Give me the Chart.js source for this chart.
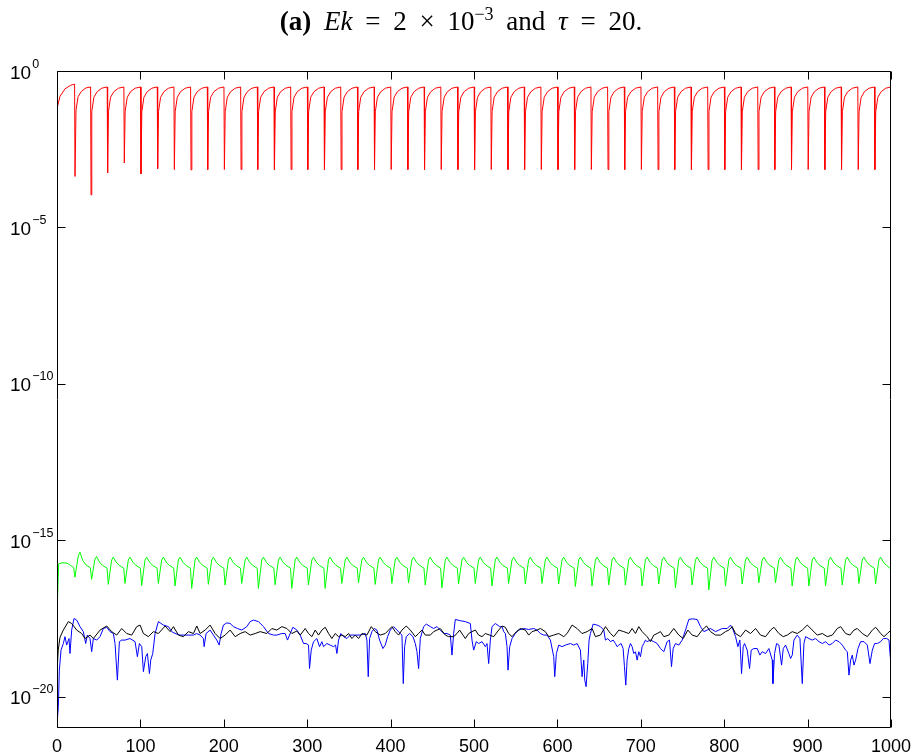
<!DOCTYPE html>
<html>
<head>
<meta charset="utf-8">
<script src="https://cdn.jsdelivr.net/npm/chart.js@4.4.1/dist/chart.umd.min.js"></script>
<style>
html, body { margin: 0; padding: 0; background: #fff; }
#wrap { position: relative; width: 914px; height: 753px; overflow: hidden; }
#residualChart { position: absolute; left: 0; top: 0; }
#title { position: absolute; top: 6px; left: 0; width: 922px; text-align: center; line-height: 30px;
  font-family: 'Liberation Serif', 'DejaVu Serif', serif; font-size: 27px; color: #000;
  word-spacing: 6px; white-space: nowrap; }
#title sup { font-size: 18px; position: relative; top: -0.55em; vertical-align: baseline; }
</style>
</head>
<body>
<div id="wrap">
<canvas id="residualChart" width="914" height="753"></canvas>
<div id="title"><b>(a)</b> <i>Ek</i> = 2 &times; 10<sup>&minus;3</sup> and <i>&tau;</i> = 20.</div>
</div>
<script>
// axis ticks
const xTicks = [0, 100, 200, 300, 400, 500, 600, 700, 800, 900, 1000];
const xTickLabels = ['0', '100', '200', '300', '400', '500', '600', '700', '800', '900', '1000'];
const yTicks = [1, 1e-5, 1e-10, 1e-15, 1e-20];
const yTickBase = '10';
const yTickExponents = ['0', '\u22125', '\u221210', '\u221215', '\u221220'];

// series as [x, log10(y)]
const redPts = [
  [0,-1.2],[3.6,-0.81],[9.6,-0.57],[16,-0.46],[21.1,-0.42],
  [21.6,-3.37],[22.8,-1.25],[25.3,-0.82],[29.3,-0.65],[34.8,-0.54],[40.3,-0.51],
  [40.8,-3.96],[41.7,-1.3],[44.2,-0.84],[48.2,-0.66],[53.7,-0.55],[60.2,-0.51],
  [60.7,-3.26],[61.7,-1.3],[64.2,-0.84],[68.2,-0.66],[73.7,-0.55],[80.2,-0.51],
  [80.7,-2.94],[81.7,-1.3],[84.2,-0.84],[88.2,-0.66],[93.7,-0.55],[100.2,-0.51],
  [100.7,-3.29],[101.7,-1.3],[104.2,-0.84],[108.2,-0.66],[113.7,-0.55],[120.2,-0.51],
  [120.7,-3.12],[121.7,-1.3],[124.2,-0.84],[128.2,-0.66],[133.7,-0.55],[140.2,-0.51],
  [140.7,-3.15],[141.7,-1.3],[144.2,-0.84],[148.2,-0.66],[153.7,-0.55],[160.2,-0.51],
  [160.7,-3.16],[161.7,-1.3],[164.2,-0.84],[168.2,-0.66],[173.7,-0.55],[180.2,-0.51],
  [180.7,-3.15],[181.7,-1.3],[184.2,-0.84],[188.2,-0.66],[193.7,-0.55],[200.2,-0.51],
  [200.7,-3.15],[201.7,-1.3],[204.2,-0.84],[208.2,-0.66],[213.7,-0.55],[220.2,-0.51],
  [220.7,-3.15],[221.7,-1.3],[224.2,-0.84],[228.2,-0.66],[233.7,-0.55],[240.2,-0.51],
  [240.7,-3.15],[241.7,-1.3],[244.2,-0.84],[248.2,-0.66],[253.7,-0.55],[260.2,-0.51],
  [260.7,-3.15],[261.7,-1.3],[264.2,-0.84],[268.2,-0.66],[273.7,-0.55],[280.2,-0.51],
  [280.7,-3.15],[281.7,-1.3],[284.2,-0.84],[288.2,-0.66],[293.7,-0.55],[300.2,-0.51],
  [300.7,-3.15],[301.7,-1.3],[304.2,-0.84],[308.2,-0.66],[313.7,-0.55],[320.2,-0.51],
  [320.7,-3.15],[321.7,-1.3],[324.2,-0.84],[328.2,-0.66],[333.7,-0.55],[340.2,-0.51],
  [340.7,-3.15],[341.7,-1.3],[344.2,-0.84],[348.2,-0.66],[353.7,-0.55],[360.2,-0.51],
  [360.7,-3.15],[361.7,-1.3],[364.2,-0.84],[368.2,-0.66],[373.7,-0.55],[380.2,-0.51],
  [380.7,-3.15],[381.7,-1.3],[384.2,-0.84],[388.2,-0.66],[393.7,-0.55],[400.2,-0.51],
  [400.7,-3.15],[401.7,-1.3],[404.2,-0.84],[408.2,-0.66],[413.7,-0.55],[420.2,-0.51],
  [420.7,-3.15],[421.7,-1.3],[424.2,-0.84],[428.2,-0.66],[433.7,-0.55],[440.2,-0.51],
  [440.7,-3.15],[441.7,-1.3],[444.2,-0.84],[448.2,-0.66],[453.7,-0.55],[460.2,-0.51],
  [460.7,-3.15],[461.7,-1.3],[464.2,-0.84],[468.2,-0.66],[473.7,-0.55],[480.2,-0.51],
  [480.7,-3.15],[481.7,-1.3],[484.2,-0.84],[488.2,-0.66],[493.7,-0.55],[500.2,-0.51],
  [500.7,-3.15],[501.7,-1.3],[504.2,-0.84],[508.2,-0.66],[513.7,-0.55],[520.2,-0.51],
  [520.7,-3.15],[521.7,-1.3],[524.2,-0.84],[528.2,-0.66],[533.7,-0.55],[540.2,-0.51],
  [540.7,-3.15],[541.7,-1.3],[544.2,-0.84],[548.2,-0.66],[553.7,-0.55],[560.2,-0.51],
  [560.7,-3.15],[561.7,-1.3],[564.2,-0.84],[568.2,-0.66],[573.7,-0.55],[580.2,-0.51],
  [580.7,-3.15],[581.7,-1.3],[584.2,-0.84],[588.2,-0.66],[593.7,-0.55],[600.2,-0.51],
  [600.7,-3.15],[601.7,-1.3],[604.2,-0.84],[608.2,-0.66],[613.7,-0.55],[620.2,-0.51],
  [620.7,-3.15],[621.7,-1.3],[624.2,-0.84],[628.2,-0.66],[633.7,-0.55],[640.2,-0.51],
  [640.7,-3.15],[641.7,-1.3],[644.2,-0.84],[648.2,-0.66],[653.7,-0.55],[660.2,-0.51],
  [660.7,-3.15],[661.7,-1.3],[664.2,-0.84],[668.2,-0.66],[673.7,-0.55],[680.2,-0.51],
  [680.7,-3.15],[681.7,-1.3],[684.2,-0.84],[688.2,-0.66],[693.7,-0.55],[700.2,-0.51],
  [700.7,-3.15],[701.7,-1.3],[704.2,-0.84],[708.2,-0.66],[713.7,-0.55],[720.2,-0.51],
  [720.7,-3.15],[721.7,-1.3],[724.2,-0.84],[728.2,-0.66],[733.7,-0.55],[740.2,-0.51],
  [740.7,-3.15],[741.7,-1.3],[744.2,-0.84],[748.2,-0.66],[753.7,-0.55],[760.2,-0.51],
  [760.7,-3.15],[761.7,-1.3],[764.2,-0.84],[768.2,-0.66],[773.7,-0.55],[780.2,-0.51],
  [780.7,-3.15],[781.7,-1.3],[784.2,-0.84],[788.2,-0.66],[793.7,-0.55],[800.2,-0.51],
  [800.7,-3.15],[801.7,-1.3],[804.2,-0.84],[808.2,-0.66],[813.7,-0.55],[820.2,-0.51],
  [820.7,-3.15],[821.7,-1.3],[824.2,-0.84],[828.2,-0.66],[833.7,-0.55],[840.2,-0.51],
  [840.7,-3.15],[841.7,-1.3],[844.2,-0.84],[848.2,-0.66],[853.7,-0.55],[860.2,-0.51],
  [860.7,-3.15],[861.7,-1.3],[864.2,-0.84],[868.2,-0.66],[873.7,-0.55],[880.2,-0.51],
  [880.7,-3.15],[881.7,-1.3],[884.2,-0.84],[888.2,-0.66],[893.7,-0.55],[900.2,-0.51],
  [900.7,-3.15],[901.7,-1.3],[904.2,-0.84],[908.2,-0.66],[913.7,-0.55],[920.2,-0.51],
  [920.7,-3.15],[921.7,-1.3],[924.2,-0.84],[928.2,-0.66],[933.7,-0.55],[940.2,-0.51],
  [940.7,-3.15],[941.7,-1.3],[944.2,-0.84],[948.2,-0.66],[953.7,-0.55],[960.2,-0.51],
  [960.7,-3.15],[961.7,-1.3],[964.2,-0.84],[968.2,-0.66],[973.7,-0.55],[980.2,-0.51],
  [980.7,-3.15],[981.7,-1.3],[984.2,-0.84],[988.2,-0.66],[993.7,-0.55],[1000,-0.51]
];

const greenPts = [
  [0,-18.6],[0.5,-17.0],[2,-15.75],[6,-15.72],[12,-15.73],[16,-15.8],[20,-15.87],
  [21.5,-16.18],[25.5,-15.5],[27.5,-15.38],[31,-15.65],[34.5,-15.78],[40,-15.88],
  [41.5,-16.25],[45.5,-15.6],[47.5,-15.52],[51,-15.7],[54.5,-15.8],[60,-15.89],
  [61.5,-16.41],[65.5,-15.63],[67.5,-15.54],[71,-15.7],[74.5,-15.8],[80,-15.89],
  [81.5,-16.38],[85.5,-15.63],[87.5,-15.54],[91,-15.7],[94.5,-15.8],[100,-15.89],
  [101.5,-16.45],[105.5,-15.63],[107.5,-15.54],[111,-15.7],[114.5,-15.8],[120,-15.89],
  [121.5,-16.38],[125.5,-15.63],[127.5,-15.54],[131,-15.7],[134.5,-15.8],[140,-15.89],
  [141.5,-16.46],[145.5,-15.63],[147.5,-15.54],[151,-15.7],[154.5,-15.8],[160,-15.89],
  [161.5,-16.54],[165.5,-15.63],[167.5,-15.54],[171,-15.7],[174.5,-15.8],[180,-15.89],
  [181.5,-16.41],[185.5,-15.63],[187.5,-15.54],[191,-15.7],[194.5,-15.8],[200,-15.89],
  [201.5,-16.43],[205.5,-15.63],[207.5,-15.54],[211,-15.7],[214.5,-15.8],[220,-15.89],
  [221.5,-16.38],[225.5,-15.63],[227.5,-15.54],[231,-15.7],[234.5,-15.8],[240,-15.89],
  [241.5,-16.54],[245.5,-15.63],[247.5,-15.54],[251,-15.7],[254.5,-15.8],[260,-15.89],
  [261.5,-16.42],[265.5,-15.63],[267.5,-15.54],[271,-15.7],[274.5,-15.8],[280,-15.89],
  [281.5,-16.54],[285.5,-15.63],[287.5,-15.54],[291,-15.7],[294.5,-15.8],[300,-15.89],
  [301.5,-16.43],[305.5,-15.63],[307.5,-15.54],[311,-15.7],[314.5,-15.8],[320,-15.89],
  [321.5,-16.54],[325.5,-15.63],[327.5,-15.54],[331,-15.7],[334.5,-15.8],[340,-15.89],
  [341.5,-16.38],[345.5,-15.63],[347.5,-15.54],[351,-15.7],[354.5,-15.8],[360,-15.89],
  [361.5,-16.36],[365.5,-15.63],[367.5,-15.54],[371,-15.7],[374.5,-15.8],[380,-15.89],
  [381.5,-16.41],[385.5,-15.63],[387.5,-15.54],[391,-15.7],[394.5,-15.8],[400,-15.89],
  [401.5,-16.38],[405.5,-15.63],[407.5,-15.54],[411,-15.7],[414.5,-15.8],[420,-15.89],
  [421.5,-16.36],[425.5,-15.63],[427.5,-15.54],[431,-15.7],[434.5,-15.8],[440,-15.89],
  [441.5,-16.43],[445.5,-15.63],[447.5,-15.54],[451,-15.7],[454.5,-15.8],[460,-15.89],
  [461.5,-16.52],[465.5,-15.63],[467.5,-15.54],[471,-15.7],[474.5,-15.8],[480,-15.89],
  [481.5,-16.4],[485.5,-15.63],[487.5,-15.54],[491,-15.7],[494.5,-15.8],[500,-15.89],
  [501.5,-16.38],[505.5,-15.63],[507.5,-15.54],[511,-15.7],[514.5,-15.8],[520,-15.89],
  [521.5,-16.46],[525.5,-15.63],[527.5,-15.54],[531,-15.7],[534.5,-15.8],[540,-15.89],
  [541.5,-16.38],[545.5,-15.63],[547.5,-15.54],[551,-15.7],[554.5,-15.8],[560,-15.89],
  [561.5,-16.4],[565.5,-15.63],[567.5,-15.54],[571,-15.7],[574.5,-15.8],[580,-15.89],
  [581.5,-16.38],[585.5,-15.63],[587.5,-15.54],[591,-15.7],[594.5,-15.8],[600,-15.89],
  [601.5,-16.4],[605.5,-15.63],[607.5,-15.54],[611,-15.7],[614.5,-15.8],[620,-15.89],
  [621.5,-16.48],[625.5,-15.63],[627.5,-15.54],[631,-15.7],[634.5,-15.8],[640,-15.89],
  [641.5,-16.46],[645.5,-15.63],[647.5,-15.54],[651,-15.7],[654.5,-15.8],[660,-15.89],
  [661.5,-16.43],[665.5,-15.63],[667.5,-15.54],[671,-15.7],[674.5,-15.8],[680,-15.89],
  [681.5,-16.43],[685.5,-15.63],[687.5,-15.54],[691,-15.7],[694.5,-15.8],[700,-15.89],
  [701.5,-16.46],[705.5,-15.63],[707.5,-15.54],[711,-15.7],[714.5,-15.8],[720,-15.89],
  [721.5,-16.4],[725.5,-15.63],[727.5,-15.54],[731,-15.7],[734.5,-15.8],[740,-15.89],
  [741.5,-16.52],[745.5,-15.63],[747.5,-15.54],[751,-15.7],[754.5,-15.8],[760,-15.89],
  [761.5,-16.43],[765.5,-15.63],[767.5,-15.54],[771,-15.7],[774.5,-15.8],[780,-15.89],
  [781.5,-16.59],[785.5,-15.63],[787.5,-15.54],[791,-15.7],[794.5,-15.8],[800,-15.89],
  [801.5,-16.46],[805.5,-15.63],[807.5,-15.54],[811,-15.7],[814.5,-15.8],[820,-15.89],
  [821.5,-16.4],[825.5,-15.63],[827.5,-15.54],[831,-15.7],[834.5,-15.8],[840,-15.89],
  [841.5,-16.36],[845.5,-15.63],[847.5,-15.54],[851,-15.7],[854.5,-15.8],[860,-15.89],
  [861.5,-16.36],[865.5,-15.63],[867.5,-15.54],[871,-15.7],[874.5,-15.8],[880,-15.89],
  [881.5,-16.46],[885.5,-15.63],[887.5,-15.54],[891,-15.7],[894.5,-15.8],[900,-15.89],
  [901.5,-16.46],[905.5,-15.63],[907.5,-15.54],[911,-15.7],[914.5,-15.8],[920,-15.89],
  [921.5,-16.46],[925.5,-15.63],[927.5,-15.54],[931,-15.7],[934.5,-15.8],[940,-15.89],
  [941.5,-16.43],[945.5,-15.63],[947.5,-15.54],[951,-15.7],[954.5,-15.8],[960,-15.89],
  [961.5,-16.38],[965.5,-15.63],[967.5,-15.54],[971,-15.7],[974.5,-15.8],[980,-15.89],
  [981.5,-16.4],[985.5,-15.63],[987.5,-15.54],[991,-15.7],[994.5,-15.8],[1000,-15.92]
];

const blackPts = [
  [0,-19.2],[1.5,-18.5],[3.6,-18.1],[7.6,-17.87],[13.6,-17.6],[17.6,-17.66],[23.6,-17.87],[29.6,-17.98],[33.6,-18.14],
  [39.6,-18.03],[43.6,-18.14],[51.6,-17.87],[59.6,-17.74],[65.6,-17.92],[71.6,-18.03],[77.6,-17.82],[83.6,-17.98],
  [89.6,-18.03],[95.6,-17.76],[99.6,-17.71],[103.6,-17.98],[109.6,-18.08],[115.6,-17.92],[121.6,-17.98],[129.6,-17.74],
  [135.6,-17.92],[139.6,-17.76],[145.6,-18.03],[151.6,-18.08],[157.6,-17.92],[163.6,-17.98],[167.6,-17.74],[171.6,-17.98],
  [177.6,-17.87],[183.6,-17.71],[189.6,-17.98],[195.6,-18.14],[201.6,-18.03],[207.6,-17.87],[213.6,-18.08],[219.6,-17.98],
  [225.6,-17.92],[231.6,-18.03],[237.6,-17.98],[243.6,-17.92],[251.6,-17.98],[257.6,-17.82],[263.6,-17.87],[269.6,-17.76],
  [275.6,-17.82],[281.6,-17.98],[287.6,-17.9],[291.6,-18.03],[297.6,-17.82],[301.6,-17.98],[305.6,-18.08],[309.6,-17.87],
  [313.6,-18.03],[317.6,-17.87],[321.6,-17.78],[325.6,-17.98],[329.6,-18.14],[333.6,-17.98],[337.6,-18.08],[341.6,-18.03],
  [345.6,-18.08],[349.6,-17.98],[353.6,-18.14],[357.6,-18.03],[361.6,-18.14],[365.6,-17.98],[371.6,-18.03],[376.8,-17.76],
  [381.6,-17.92],[387.6,-18.03],[393.6,-17.98],[397.6,-17.87],[401.6,-17.76],[405.6,-17.92],[409.6,-18.03],[413.6,-17.87],
  [418.8,-17.74],[423.6,-17.87],[429.6,-18.08],[433.6,-17.98],[437.6,-17.87],[441.6,-18.03],[447.6,-18.03],[451.6,-17.92],
  [455.6,-17.87],[459.6,-17.82],[465.6,-18.03],[469.6,-18.08],[475.6,-18.08],[479.6,-17.98],[482.8,-17.87],[486.8,-18.03],
  [489.6,-18.14],[493.6,-17.98],[497.6,-17.92],[501.6,-17.87],[505.6,-18.03],[509.6,-18.08],[513.6,-17.98],[518.8,-18.03],
  [523.6,-18.08],[529.6,-17.87],[533.6,-17.74],[537.6,-17.78],[541.6,-17.98],[545.6,-18.08],[550.8,-17.92],[555.6,-17.82],
  [561.6,-17.87],[565.6,-18.03],[569.6,-17.92],[575.6,-17.87],[579.6,-17.82],[585.6,-17.92],[589.6,-18.08],[595.6,-18.03],
  [601.6,-17.98],[607.6,-18.08],[611.6,-17.98],[617.6,-17.71],[623.6,-17.82],[629.6,-17.98],[635.6,-17.92],[641.6,-17.82],
  [645.6,-18.08],[651.6,-18.03],[657.6,-17.76],[663.6,-17.98],[667.6,-18.08],[673.6,-17.87],[679.6,-17.92],[685.6,-17.98],
  [689.6,-17.82],[693.6,-17.98],[697.6,-17.76],[701.6,-17.92],[707.6,-18.08],[711.6,-18.24],[715.6,-18.03],[719.6,-17.98],
  [723.6,-17.92],[727.6,-18.08],[733.6,-18.03],[739.6,-17.82],[745.6,-18.03],[750.8,-18.14],[756.4,-17.87],[761.6,-18.03],
  [767.6,-18.08],[773.6,-17.87],[778.8,-17.74],[783.6,-17.92],[789.6,-18.03],[795.6,-18.03],[801.6,-17.92],[805.6,-17.87],
  [809.6,-17.76],[813.6,-17.98],[819.6,-18.08],[825.6,-17.87],[831.6,-17.98],[837.6,-17.82],[843.6,-18.03],[849.6,-18.08],
  [855.6,-17.87],[859.6,-17.78],[865.6,-17.98],[870.8,-18.08],[875.6,-18.03],[881.6,-17.92],[887.6,-17.98],[893.6,-17.87],
  [899.6,-17.71],[905.6,-17.87],[911.6,-18.03],[917.6,-17.98],[923.6,-18.08],[929.6,-18.03],[935.6,-17.82],[939.6,-17.76],
  [945.6,-17.98],[950.8,-18.03],[955.6,-17.87],[959.6,-17.82],[965.6,-17.98],[971.6,-18.08],[977.6,-17.87],[981.6,-17.78],
  [987.6,-17.98],[991.6,-18.08],[995.6,-17.98],[1000,-17.87]
];

const bluePts = [
  [0,-20.9],[1.6,-20.32],[2.8,-19.15],[4.8,-18.51],[7.6,-18.3],[9.6,-18.08],[11.6,-18.35],[14.4,-18.14],[15.6,-18.62],
  [17.6,-17.87],[20.4,-17.5],[23.6,-17.55],[27.6,-17.76],[31.6,-17.92],[34.4,-18.3],[36.4,-18.03],[39.6,-18.14],[41.6,-18.56],
  [43.6,-18.14],[47.6,-18.19],[51.6,-18.08],[55.6,-17.82],[59.6,-17.78],[63.6,-17.92],[67.6,-17.98],[69.6,-18.3],[72.4,-19.47],
  [74.8,-18.24],[77.6,-18.19],[81.6,-18.19],[87.6,-18.14],[93.6,-18.24],[96.4,-18.72],[98.8,-18.3],[101.6,-18.4],[103.6,-19.2],
  [106.4,-18.72],[108.4,-18.62],[110.8,-19.26],[112.4,-18.83],[114.8,-18.62],[117.6,-17.98],[121.6,-17.6],[127.6,-17.71],
  [133.6,-17.76],[137.6,-17.92],[141.6,-17.98],[147.6,-18.03],[153.6,-18.03],[159.6,-18.03],[163.6,-18.03],[167.6,-17.98],
  [171.6,-18.03],[175.6,-18.14],[176.4,-18.4],[178.8,-17.98],[183.6,-17.87],[187.6,-18.03],[191.6,-18.19],[194.4,-18.35],
  [196.8,-17.98],[199.6,-17.71],[203.6,-17.64],[207.6,-17.66],[211.6,-17.76],[216.4,-17.82],[221.6,-17.87],[227.6,-17.76],
  [231.6,-17.6],[235.6,-17.55],[241.6,-17.6],[247.6,-17.76],[253.6,-17.98],[259.6,-18.03],[263.6,-18.03],[269.6,-17.98],
  [273.6,-17.98],[276.4,-18.19],[278.8,-18.03],[282.8,-17.78],[287.6,-17.87],[291.6,-18.03],[295.6,-18.3],[298.8,-18.3],
  [301.6,-18.35],[302.8,-19.1],[304.8,-18.51],[307.6,-18.24],[311.6,-18.14],[314.8,-18.4],[317.6,-18.24],[319.6,-18.4],
  [323.6,-18.3],[327.6,-18.35],[331.6,-18.4],[334,-18.35],[335.6,-18.62],[337.6,-18.19],[340.4,-17.98],[343.6,-18.08],
  [347.6,-18.14],[351.6,-18.03],[357.6,-18.03],[363.6,-18.03],[369.6,-17.98],[371.6,-18.19],[373.2,-19.36],[374.8,-18.14],
  [377.6,-17.92],[380.4,-17.82],[383.6,-17.87],[386.8,-18.19],[390.8,-18.46],[393.6,-18.35],[396.4,-18.08],[399.6,-17.87],
  [403.6,-17.76],[407.6,-17.87],[411.6,-17.98],[413.6,-18.03],[415.2,-19.58],[416.8,-18.4],[418.8,-18.08],[422.8,-17.98],
  [426.8,-18.08],[429.6,-18.3],[431.6,-18.56],[433.6,-19.1],[435.6,-18.14],[439.6,-17.76],[442.8,-17.68],[447.6,-17.76],
  [451.6,-17.82],[455.6,-17.76],[459.6,-17.87],[463.6,-17.98],[467.6,-17.98],[471.6,-18.03],[473.6,-18.67],[475.6,-17.98],
  [477.6,-17.53],[483.6,-17.57],[489.6,-17.6],[495.6,-17.66],[497.6,-18.19],[499.6,-18.51],[502.8,-18.24],[505.6,-18.3],
  [509.6,-18.24],[513.6,-18.4],[515.6,-18.3],[517.6,-18.94],[519.6,-18.19],[521.6,-17.76],[525.6,-17.66],[530.8,-17.76],
  [533.6,-17.76],[535.6,-17.92],[537.6,-17.98],[539.6,-18.4],[540.8,-19.15],[542.8,-18.4],[545.6,-18.14],[549.6,-17.98],
  [553.6,-17.87],[559.6,-17.82],[565.6,-17.85],[571.6,-17.82],[575.6,-17.87],[579.6,-17.98],[583.6,-18.03],[587.6,-18.03],
  [591.6,-18.19],[595.6,-18.72],[596.8,-19.36],[598.8,-18.62],[601.6,-18.35],[605.6,-18.4],[609.6,-18.35],[615.6,-18.3],
  [619.6,-18.35],[623.6,-18.3],[627.6,-18.51],[629.6,-19.36],[631.6,-18.83],[632.8,-19.47],[634.4,-19.68],[636.4,-18.94],
  [638,-18.19],[639.6,-17.98],[642.8,-17.68],[647.6,-17.71],[651.6,-17.76],[655.6,-17.87],[657.6,-18.19],[660.4,-18.14],
  [663.6,-18.24],[666.8,-18.19],[669.6,-18.3],[671.6,-18.4],[673.6,-18.35],[676.4,-18.3],[678.8,-18.46],[680.4,-19.04],
  [682,-19.63],[683.6,-18.83],[685.6,-18.46],[687.6,-18.3],[689.6,-18.4],[691.6,-18.62],[693.6,-18.56],[695.6,-18.83],
  [697.6,-18.56],[699.6,-18.72],[701.6,-18.4],[703.6,-18.3],[705.6,-18.19],[707.6,-18.24],[711.6,-18.19],[715.6,-18.24],
  [719.6,-18.3],[723.6,-18.46],[727.6,-18.56],[731.6,-18.24],[734.4,-18.19],[736.8,-19.04],[738.8,-18.46],[741.6,-18.3],
  [745.6,-18.35],[749.6,-18.19],[753.6,-17.87],[757.6,-17.53],[761.6,-17.51],[767.6,-17.53],[771.6,-17.76],[775.6,-17.92],
  [779.6,-17.87],[783.6,-17.82],[789.6,-17.92],[793.6,-17.87],[797.6,-17.82],[803.6,-17.82],[807.6,-17.71],[810.8,-17.87],
  [813.6,-18.08],[816.4,-18.4],[818.8,-18.19],[820.8,-19.26],[822.8,-18.4],[824.4,-18.3],[827.6,-18.51],[830.4,-19.1],
  [832.4,-18.51],[835.6,-18.46],[839.6,-18.46],[842.8,-18.67],[845.6,-18.56],[849.6,-18.62],[853.6,-18.46],[857.6,-18.83],
  [858.4,-19.58],[860.4,-18.62],[862.8,-18.3],[865.6,-18.35],[868.8,-18.99],[870.8,-18.46],[873.6,-18.35],[877.6,-18.62],
  [879.6,-18.78],[881.6,-18.67],[883.6,-18.19],[887.6,-18.03],[890.8,-18.14],[893.6,-19.58],[895.6,-18.3],[897.6,-18.08],
  [901.6,-18.14],[905.6,-18.19],[909.6,-18.14],[913.6,-18.24],[917.6,-18.3],[921.6,-18.24],[925.6,-18.35],[929.6,-18.3],
  [933.6,-18.19],[937.6,-18.24],[941.6,-18.35],[945.6,-18.51],[947.6,-18.56],[949.6,-19.31],[951.6,-18.83],[953.6,-18.67],
  [955.6,-18.99],[957.6,-18.83],[960.4,-18.46],[963.6,-18.24],[967.6,-18.24],[971.6,-18.35],[974.8,-18.94],[977.6,-18.51],
  [980.4,-18.3],[983.6,-18.3],[987.6,-18.24],[990.8,-18.14],[994.8,-18.14],[997.6,-18.19],[998.8,-18.62],[1000,-18.94]
];

const toPoints = pts => pts.map(p => ({ x: p[0], y: Math.pow(10, p[1]) }));

const sansFamily = "'Liberation Sans', Arial, 'DejaVu Sans', sans-serif";
const tickFont = { family: sansFamily, size: 18 };

// MATLAB style box with inward ticks on all four sides
const insideTicks = {
  id: 'insideTicks',
  afterDatasetsDraw(chart) {
    const { ctx, chartArea, scales } = chart;
    const left = Math.round(chartArea.left) + 0.5;
    const right = Math.round(chartArea.right) - 0.5;
    const top = Math.round(chartArea.top) + 0.5;
    const bottom = Math.round(chartArea.bottom) - 0.5;
    ctx.save();
    ctx.strokeStyle = '#000';
    ctx.lineWidth = 1;
    ctx.beginPath();
    xTicks.forEach(v => {
      const px = Math.round(scales.x.getPixelForValue(v)) + 0.5;
      ctx.moveTo(px, bottom); ctx.lineTo(px, bottom - 8);
      ctx.moveTo(px, top); ctx.lineTo(px, top + 8);
    });
    yTicks.forEach(v => {
      const py = Math.round(scales.y.getPixelForValue(v)) + 0.5;
      ctx.moveTo(left, py); ctx.lineTo(left + 8, py);
      ctx.moveTo(right, py); ctx.lineTo(right - 8, py);
    });
    ctx.rect(left, top, right - left, bottom - top);
    ctx.stroke();
    ctx.restore();
  }
};

// power-of-ten labels with a raised exponent, placed by the y scale
const powerLabels = {
  id: 'powerLabels',
  afterDraw(chart) {
    const { ctx, scales } = chart;
    ctx.save();
    ctx.fillStyle = '#000';
    ctx.textAlign = 'left';
    ctx.textBaseline = 'alphabetic';
    yTicks.forEach((v, i) => {
      const py = scales.y.getPixelForValue(v);
      ctx.font = '19px ' + sansFamily;
      ctx.fillText(yTickBase, 10, py + 7.5);
      const w = ctx.measureText(yTickBase).width;
      ctx.font = '12.5px ' + sansFamily;
      ctx.fillText(yTickExponents[i], 10 + w + 1, py - 3.5);
    });
    ctx.restore();
  }
};

const lineStyle = color => ({ borderColor: color, borderWidth: 1, pointRadius: 0, tension: 0, fill: false });

const ctxResidual = document.getElementById('residualChart').getContext('2d');
new Chart(ctxResidual, {
  type: 'line',
  data: {
    datasets: [
      { label: 'black', data: toPoints(blackPts), ...lineStyle('#000000') },
      { label: 'blue', data: toPoints(bluePts), ...lineStyle('#0000ff') },
      { label: 'green', data: toPoints(greenPts), ...lineStyle('#00ff00') },
      { label: 'red', data: toPoints(redPts), ...lineStyle('#ff0000') }
    ]
  },
  options: {
    responsive: false,
    animation: false,
    layout: { padding: { top: 71, right: 23, left: 10, bottom: 0 } },
    plugins: { legend: { display: false }, tooltip: { enabled: false }, title: { display: false } },
    scales: {
      x: {
        type: 'linear', min: 0, max: 1000,
        afterBuildTicks: s => { s.ticks = xTicks.map(v => ({ value: v })); },
        afterFit: s => { s.height = 25; s.paddingLeft = 0; s.paddingRight = 0; },
        grid: { display: false, drawTicks: false },
        border: { display: false },
        ticks: {
          font: tickFont, color: '#000', padding: 8, maxRotation: 0, autoSkip: false,
          callback: v => xTickLabels[xTicks.indexOf(v)]
        }
      },
      y: {
        type: 'logarithmic', min: 1e-21, max: 1,
        afterBuildTicks: s => { s.ticks = yTicks.map(v => ({ value: v })); },
        afterFit: s => { s.width = 47; s.paddingTop = 0; s.paddingBottom = 0; },
        grid: { display: false, drawTicks: false },
        border: { display: false },
        ticks: { display: false }
      }
    }
  },
  plugins: [insideTicks, powerLabels]
});
</script>
</body>
</html>
